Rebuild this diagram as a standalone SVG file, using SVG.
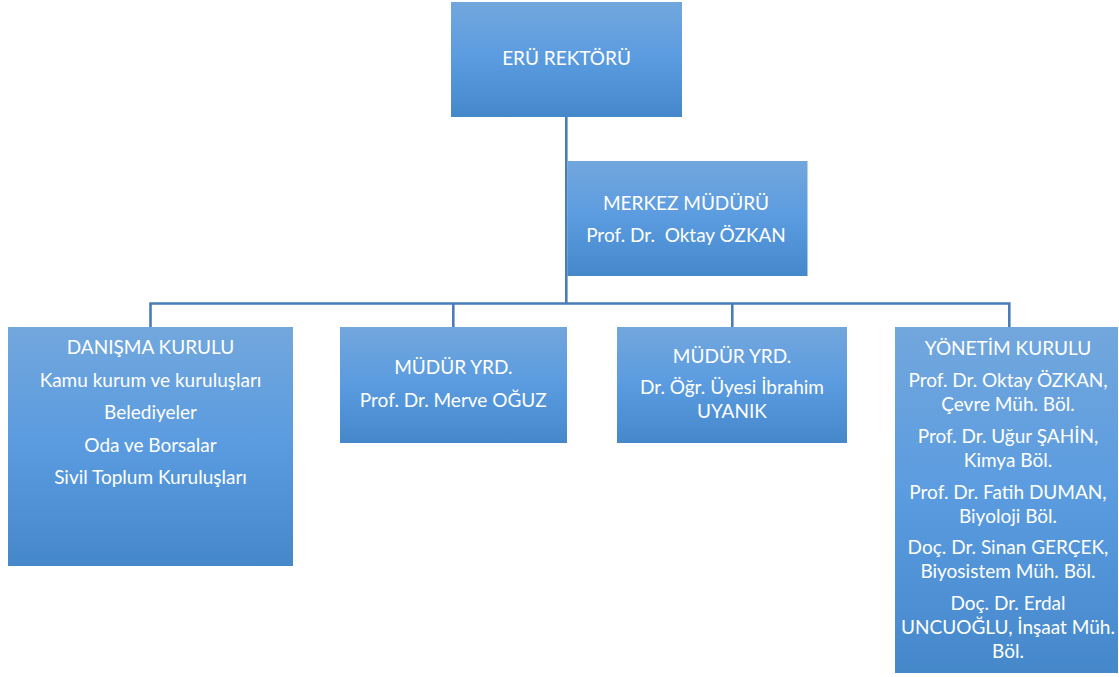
<svg xmlns="http://www.w3.org/2000/svg" width="1119" height="677" viewBox="0 0 1119 677">
<defs>
<linearGradient id="g" x1="0" y1="0" x2="0" y2="1">
<stop offset="0" stop-color="#72a7dd"/>
<stop offset="0.5" stop-color="#5a9be0"/>
<stop offset="1" stop-color="#4588ca"/>
</linearGradient>
<style>
.box{fill:url(#g);}
.t{font-family:Lato,"Liberation Sans",sans-serif;font-size:19px;fill:#ffffff;text-anchor:middle;}
.c{fill:none;stroke:#4a7db6;stroke-width:2.6;}
</style>
</defs>
<rect width="1119" height="677" fill="#ffffff"/>
<g id="connectors">
<path class="c" d="M566.3 116 V303.5"/>
<path class="c" d="M150.5 327 V303.5 H1009.3 V327"/>
<path class="c" d="M453.3 303.5 V327"/>
<path class="c" d="M732.3 303.5 V327"/>
</g>
<g id="rektor">
<rect class="box" x="451" y="2" width="231" height="115"/>
<text class="t" x="566.5" y="65">ERÜ REKTÖRÜ</text>
</g>
<g id="merkez">
<rect class="box" x="567.5" y="161" width="240" height="115"/>
<text class="t" x="686" y="209.5">MERKEZ MÜDÜRÜ</text>
<text class="t" x="686" y="241.7" xml:space="preserve">Prof. Dr.  Oktay ÖZKAN</text>
</g>
<g id="danisma">
<rect class="box" x="8" y="327" width="285" height="239"/>
<text class="t" x="150.5" y="354.3">DANIŞMA KURULU</text>
<text class="t" x="150.5" y="386.7">Kamu kurum ve kuruluşları</text>
<text class="t" x="150.5" y="419.3">Belediyeler</text>
<text class="t" x="150.5" y="451.7">Oda ve Borsalar</text>
<text class="t" x="150.5" y="484.3">Sivil Toplum Kuruluşları</text>
</g>
<g id="mudur-yrd-1">
<rect class="box" x="340" y="327" width="227" height="116"/>
<text class="t" x="453.3" y="374.3">MÜDÜR YRD.</text>
<text class="t" x="453.3" y="406.7">Prof. Dr. Merve OĞUZ</text>
</g>
<g id="mudur-yrd-2">
<rect class="box" x="617" y="327" width="230" height="116"/>
<text class="t" x="732" y="362.7">MÜDÜR YRD.</text>
<text class="t" x="732" y="394.3">Dr. Öğr. Üyesi İbrahim</text>
<text class="t" x="732" y="418.3">UYANIK</text>
</g>
<g id="yonetim">
<rect class="box" x="895" y="327" width="223" height="346"/>
<text class="t" x="1008" y="355">YÖNETİM KURULU</text>
<text class="t" x="1008" y="387.3">Prof. Dr. Oktay ÖZKAN,</text>
<text class="t" x="1008" y="410.7">Çevre Müh. Böl.</text>
<text class="t" x="1008" y="442.7">Prof. Dr. Uğur ŞAHİN,</text>
<text class="t" x="1008" y="466.7">Kimya Böl.</text>
<text class="t" x="1008" y="499.3">Prof. Dr. Fatih DUMAN,</text>
<text class="t" x="1008" y="522.7">Biyoloji Böl.</text>
<text class="t" x="1008" y="554.3">Doç. Dr. Sinan GERÇEK,</text>
<text class="t" x="1008" y="578.3">Biyosistem Müh. Böl.</text>
<text class="t" x="1008" y="610">Doç. Dr. Erdal</text>
<text class="t" x="1008" y="634">UNCUOĞLU, İnşaat Müh.</text>
<text class="t" x="1008" y="657.7">Böl.</text>
</g>
</svg>
